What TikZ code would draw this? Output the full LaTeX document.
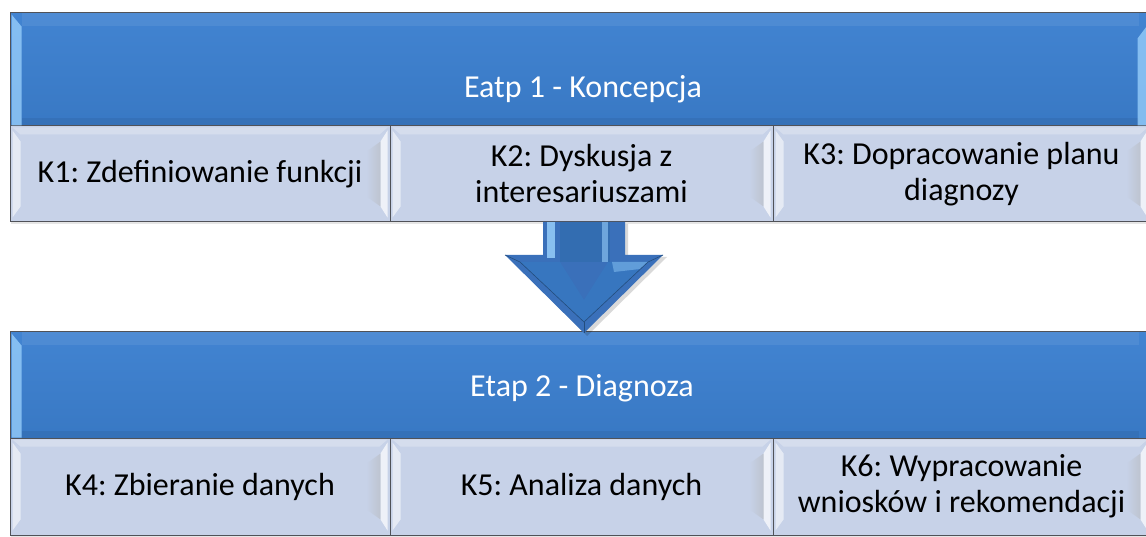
\documentclass[tikz,border=0pt]{standalone}
\usepackage{fontspec}
\setmainfont{Carlito}
\frenchspacing
\usetikzlibrary{calc,shadows}
\definecolor{etapblue}{RGB}{60,128,208}
\definecolor{arrowblue}{RGB}{58,112,186}
\definecolor{krokfill}{RGB}{199,210,232}
\definecolor{edgegray}{RGB}{80,82,88}
\definecolor{glint}{RGB}{150,205,250}

\begin{document}
\begin{tikzpicture}[x=1pt, y=-1pt, thick,
  etap/.style={draw=edgegray, line width=1pt, top color=etapblue!97!white, bottom color=etapblue!94!black, minimum width=1140pt, inner sep=0pt},
  etaptext/.style={text=white, font=\fontsize{32}{36}\selectfont, inner sep=0pt},
  krok/.style={draw=edgegray, line width=1pt, fill=krokfill, minimum height=96pt, inner sep=0pt, align=center, font=\fontsize{32}{36}\selectfont, drop shadow={opacity=0.2, shadow xshift=1pt, shadow yshift=-2pt}}]

\useasboundingbox (0,0) rectangle (1146,537);

% Etap 1
\node[etap, minimum height=113pt] (etap1) at (580,69.5) {};
\node[etaptext] (etap1txt) at (583,89) {Eatp 1 - Koncepcja};
\node[krok, minimum width=380pt] (k1) at (200,174) {K1: Zdefiniowanie funkcji};
\node[krok, minimum width=383pt] (k2) at (581.5,174) {K2: Dyskusja z\\interesariuszami};
\node[krok, minimum width=377pt] (k3) at (961.5,174) {K3: Dopracowanie planu\\diagnozy};

% Etap 2
\node[etap, minimum height=106pt] (etap2) at (580,385) {};
\node[etaptext] (etap2txt) at (582,388) {Etap 2 - Diagnoza};
\node[krok, minimum width=380pt, minimum height=97pt] (k4) at (200,486.5) {K4: Zbieranie danych};
\node[krok, minimum width=383pt, minimum height=97pt] (k5) at (581.5,486.5) {K5: Analiza danych};
\node[krok, minimum width=377pt, minimum height=97pt] (k6) at (961.5,486.5) {K6: Wypracowanie\\wniosków i rekomendacji};

% bevels
\foreach \e in {etap1,etap2} {
  \fill[glint, opacity=0.8] ($(\e.north west)+(2,2)$) -- ($(\e.north west)+(12,14)$) -- ($(\e.south west)+(12,-1)$) -- ($(\e.south west)+(2,-1)$) -- cycle;
  \fill[white, opacity=0.07] ($(\e.north west)+(12,1)$) rectangle ($(\e.north east)+(-12,14)$);
  \fill[black, opacity=0.06] ($(\e.south west)+(12,-1)$) rectangle ($(\e.south east)+(-12,-8)$);
}
\fill[glint, opacity=0.8] ($(etap1.north east)+(-4,14)$) -- ($(etap1.north east)+(-13,26)$) -- ($(etap1.south east)+(-13,-1)$) -- ($(etap1.south east)+(-4,-1)$) -- cycle;

\foreach \k in {k1,k2,k3,k4,k5,k6} {
  \fill[white, opacity=0.55] ($(\k.north west)+(3,5)$) -- ($(\k.north west)+(11,16)$) -- ($(\k.south west)+(11,-16)$) -- ($(\k.south west)+(3,-5)$) -- cycle;
  \fill[white, opacity=0.25] ($(\k.north west)+(3,2)$) -- ($(\k.north east)+(-3,2)$) -- ($(\k.north east)+(-11,9)$) -- ($(\k.north west)+(11,9)$) -- cycle;
  \shade[left color=krokfill, right color=black!30, opacity=0.45] ($(\k.north east)+(-24,26)$) -- ($(\k.north east)+(-10,16)$) -- ($(\k.south east)+(-10,-16)$) -- ($(\k.south east)+(-24,-26)$) -- cycle;
  \fill[white, opacity=0.7] ($(\k.north east)+(-3,5)$) -- ($(\k.north east)+(-10,16)$) -- ($(\k.south east)+(-10,-16)$) -- ($(\k.south east)+(-3,-5)$) -- cycle;
}

% arrow
\coordinate (tip) at (584,333);
\fill[black, opacity=0.15] (546,224) -- (628,224) -- (628,257) -- (667,257) -- (587,336) -- (508,257) -- (546,257) -- cycle;
\fill[arrowblue] (543,222) -- (625,222) -- (625,255) -- (663,255) -- (tip) -- (505,255) -- (543,255) -- cycle;
\fill[etapblue!85!black] (560,222) rectangle (610,262);
\fill[glint, opacity=0.85] (547,222) rectangle (555,258);
\fill[glint, opacity=0.6] (602,222) rectangle (608,262);
\fill[etapblue!92!black] (520,262) -- (560,262) -- (584,300) -- (608,262) -- (648,262) -- (584,322) -- cycle;
\fill[glint, opacity=0.45] (612,262) -- (648,262) -- (640,269) -- (614,272) -- cycle;
\draw[etapblue!60!black, line width=0.6pt] (505,255) -- (520,262) -- (584,322) -- (648,262) -- (663,255);
\draw[etapblue!60!black, line width=0.6pt] (584,322) -- (tip);
\end{tikzpicture}
\end{document}
